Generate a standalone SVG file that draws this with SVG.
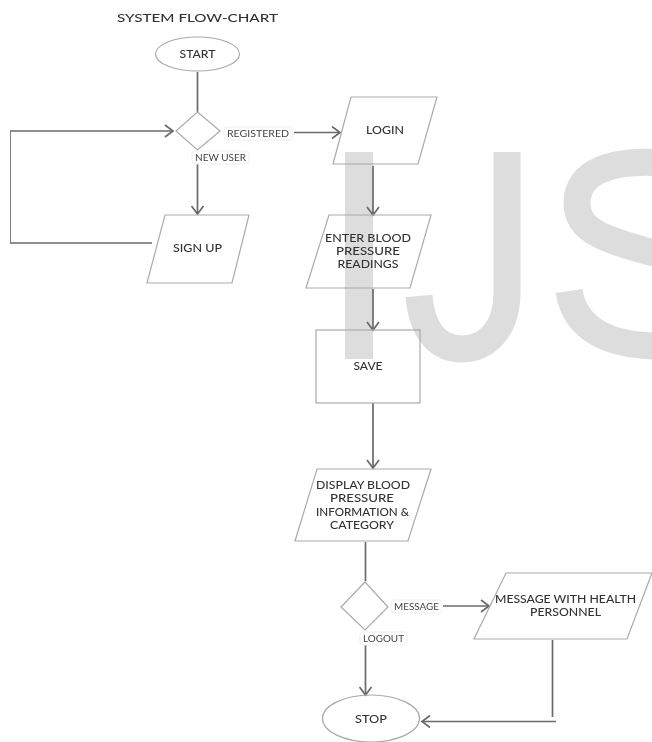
<svg xmlns="http://www.w3.org/2000/svg" width="652" height="742" viewBox="0 0 652 742">
<style>
.n{fill:none;stroke:#aaa;stroke-width:1.2}
.c{fill:none;stroke:#6a6a6a;stroke-width:1.7;stroke-linejoin:round}
.t{font-family:"Lato","Liberation Sans",sans-serif;font-size:11.5px;font-weight:500;fill:#333;text-anchor:middle}
.l{font-family:"Lato","Liberation Sans",sans-serif;font-size:9.2px;fill:#444;text-anchor:middle}
.b{fill:#fff;stroke:#eee;stroke-width:1}
.w{fill:none;stroke:#ddd;stroke-width:27}
</style>
<defs>
<marker id="a" viewBox="0 0 14 14" refX="11" refY="7" markerWidth="14" markerHeight="14" markerUnits="userSpaceOnUse" orient="auto"><path d="M3 1L11 7L3 13" fill="none" stroke="#6a6a6a" stroke-width="1.7"/></marker>
<filter id="s" x="0" y="0" width="100%" height="100%"><feGaussianBlur stdDeviation="0.4"/></filter>
</defs>
<rect width="652" height="742" fill="#fff"/>
<g filter="url(#s)">
<g id="watermark">
<rect x="345" y="152" width="28" height="207" fill="#ddd"/>
<path class="w" d="M507 152V292C507 331 485 349 462 349C438 349 422 331 419 296"/>
<path class="w" d="M665 163C610 159 577 172 577 203C577 232 605 240 665 256"/>
<path class="w" d="M569 291C575 330 610 347 665 346"/>
</g>
<g id="connectors">
<path class="c" d="M197.500 72V112"/>
<path class="c" d="M294 132.500H340" marker-end="url(#a)"/>
<path class="c" d="M197.500 164V214" marker-end="url(#a)"/>
<path class="c" d="M152 243H10V131H173" marker-end="url(#a)"/>
<path class="c" d="M373 166V215" marker-end="url(#a)"/>
<path class="c" d="M373 289V330" marker-end="url(#a)"/>
<path class="c" d="M373 403V468" marker-end="url(#a)"/>
<path class="c" d="M365.500 542V581"/>
<path class="c" d="M443 606H489" marker-end="url(#a)"/>
<path class="c" d="M365.500 645V695" marker-end="url(#a)"/>
<path class="c" d="M552.500 640V717"/>
<path class="c" d="M556 721.500H422" marker-end="url(#a)"/>
</g>
<g id="title"><text class="t" x="197.500" y="21.500" textLength="161" lengthAdjust="spacingAndGlyphs">SYSTEM FLOW-CHART</text></g>
<g id="start"><ellipse class="n" cx="197.500" cy="54" rx="42" ry="17"/><text class="t" x="197.500" y="58" textLength="36" lengthAdjust="spacingAndGlyphs">START</text></g>
<g id="decision1"><path class="n" d="M197.500 112L220 131L197.500 150L176 131Z"/></g>
<g id="label-registered"><rect class="b" x="224" y="127" width="68" height="13" rx="3"/><text class="l" x="258" y="136.500" textLength="62" lengthAdjust="spacingAndGlyphs">REGISTERED</text></g>
<g id="label-newuser"><rect class="b" x="192" y="151" width="57" height="13" rx="3"/><text class="l" x="220.500" y="160.500" textLength="51" lengthAdjust="spacingAndGlyphs">NEW USER</text></g>
<g id="signup"><path class="n" d="M165 215H249L232 283H147Z"/><text class="t" x="197.500" y="252" textLength="49" lengthAdjust="spacingAndGlyphs">SIGN UP</text></g>
<g id="login"><path class="n" d="M351 97H437L418 164H333Z"/><text class="t" x="385" y="134" textLength="38" lengthAdjust="spacingAndGlyphs">LOGIN</text></g>
<g id="enter"><path class="n" d="M329 215H431L410 288H306Z"/><text class="t" x="368" y="242" textLength="86" lengthAdjust="spacingAndGlyphs">ENTER BLOOD</text><text class="t" x="368" y="255" textLength="64" lengthAdjust="spacingAndGlyphs">PRESSURE</text><text class="t" x="368" y="268" textLength="61" lengthAdjust="spacingAndGlyphs">READINGS</text></g>
<g id="save"><rect class="n" x="316" y="330" width="104" height="73"/><text class="t" x="368" y="369.500" textLength="29" lengthAdjust="spacingAndGlyphs">SAVE</text></g>
<g id="display"><path class="n" d="M317 469H431L408 541H295Z"/><text class="t" x="363" y="489" textLength="94" lengthAdjust="spacingAndGlyphs">DISPLAY BLOOD</text><text class="t" x="362" y="502" textLength="64" lengthAdjust="spacingAndGlyphs">PRESSURE</text><text class="t" x="362.500" y="515.500" textLength="93" lengthAdjust="spacingAndGlyphs">INFORMATION &amp;</text><text class="t" x="362" y="528.500" textLength="64" lengthAdjust="spacingAndGlyphs">CATEGORY</text></g>
<g id="decision2"><path class="n" d="M365 582L388 607L365 630L341 607Z"/></g>
<g id="label-message"><rect class="b" x="391" y="600" width="51" height="13" rx="3"/><text class="l" x="416.500" y="610" textLength="45" lengthAdjust="spacingAndGlyphs">MESSAGE</text></g>
<g id="label-logout"><rect class="b" x="360" y="632" width="47" height="13" rx="3"/><text class="l" x="383.500" y="641.500" textLength="41" lengthAdjust="spacingAndGlyphs">LOGOUT</text></g>
<g id="message"><path class="n" d="M506 573H652L627 639H474Z"/><text class="t" x="565.500" y="602.500" textLength="141" lengthAdjust="spacingAndGlyphs">MESSAGE WITH HEALTH</text><text class="t" x="565.500" y="616" textLength="71" lengthAdjust="spacingAndGlyphs">PERSONNEL</text></g>
<g id="stop"><ellipse class="n" cx="371" cy="718.500" rx="48.500" ry="23.500"/><text class="t" x="371" y="722.500" textLength="32" lengthAdjust="spacingAndGlyphs">STOP</text></g>
</g>
</svg>
